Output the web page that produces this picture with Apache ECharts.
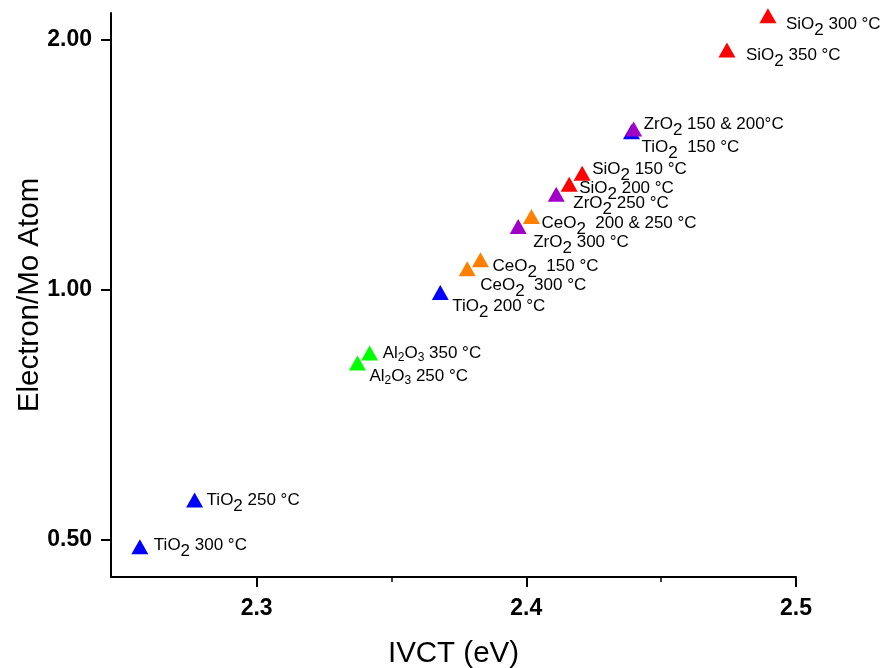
<!DOCTYPE html>
<html>
<head>
<meta charset="utf-8">
<script src="https://cdn.jsdelivr.net/npm/echarts@6/dist/echarts.min.js"></script>
<style>
  html, body { margin: 0; padding: 0; background: #fff; }
  #main { width: 882px; height: 668px; }
</style>
</head>
<body>
<div id="main"></div>
<script>
// IVCT energy (eV) vs electrons per Mo atom, one series per support
var materials = ['TiO2', 'Al2O3', 'CeO2', 'ZrO2', 'SiO2'];
var colors = ['#0000ff', '#00ff00', '#ff8000', '#a000c8', '#ff0000'];

var tio2_x = [2.2567, 2.2770, 2.3681, 2.4390];
var tio2_y = [0.490, 0.558, 0.992, 1.550];
var tio2_t = ['300 °C', '250 °C', '200 °C', ' 150 °C'];

var al2o3_x = [2.3374, 2.3419];
var al2o3_y = [0.816, 0.839];
var al2o3_t = ['250 °C', '350 °C'];

var ceo2_x = [2.3781, 2.3830, 2.4019];
var ceo2_y = [1.060, 1.087, 1.225];
var ceo2_t = [' 300 °C', ' 150 °C', ' 200 & 250 °C'];

var zro2_x = [2.3970, 2.4111, 2.4398];
var zro2_y = [1.192, 1.303, 1.562];
var zro2_t = ['300 °C', '250 °C', '150 & 200°C'];

var sio2_x = [2.4159, 2.4207, 2.4744, 2.4896];
var sio2_y = [1.340, 1.381, 1.945, 2.138];
var sio2_t = ['200 °C', '150 °C', '350 °C', '300 °C'];

var xTicks = [2.3, 2.4, 2.5];
var xMinorTicks = [2.35, 2.45];
var yTicks = [0.5, 1, 2];

// label offsets (px from marker centre), same order as the data above
var tio2_off = [[14, -1], [12, 0], [12, 14], [10, 16]];
var al2o3_off = [[12, 13], [13, 0]];
var ceo2_off = [[13, 17], [12, 7], [10, 7]];
var zro2_off = [[15, 16], [17, 9], [10, -5]];
var sio2_off = [[10, 4], [10, -4], [19, 5], [18, 8]];

var formulas = {
  'TiO2': '{n|TiO}{b|2}',
  'Al2O3': '{n|Al}{t|2}{n|O}{t|3}',
  'CeO2': '{n|CeO}{b|2}',
  'ZrO2': '{n|ZrO}{b|2}',
  'SiO2': '{n|SiO}{b|2}'
};

var FONT = '"Liberation Sans", Arial, sans-serif';

function makeSeries(name, color, xs, ys, temps, offs) {
  var data = [];
  for (var i = 0; i < xs.length; i++) {
    data.push({
      value: [xs[i], ys[i]],
      label: {
        offset: offs[i],
        formatter: formulas[name] + '{n| ' + temps[i] + '}'
      }
    });
  }
  return {
    name: name,
    type: 'scatter',
    symbol: 'triangle',
    symbolSize: [17, 15],
    itemStyle: { color: color, opacity: 1 },
    label: {
      show: true,
      position: 'inside',
      align: 'left',
      verticalAlign: 'middle',
      color: '#000',
      textBorderWidth: 0,
      rich: {
        n: { fontSize: 17, fontFamily: FONT, color: '#000' },
        b: { fontSize: 17, fontFamily: FONT, color: '#000', padding: [12, 0, 0, 0] },
        t: { fontSize: 12, fontFamily: FONT, color: '#000', padding: [10, 0, 0, 0] }
      }
    },
    emphasis: { disabled: true },
    clip: false,
    data: data
  };
}

var chart = echarts.init(document.getElementById('main'));
var option = {
  backgroundColor: '#fff',
  animation: false,
  grid: { left: 111, top: 13, right: 86, bottom: 91, containLabel: false, outerBoundsMode: 'none' },
  xAxis: [
    {
      type: 'value',
      min: 2.246,
      max: 2.5,
      name: 'IVCT (eV)',
      nameLocation: 'middle',
      nameGap: 62,
      nameMoveOverlap: false,
      nameTextStyle: { fontSize: 29.5, fontFamily: FONT, color: '#000' },
      splitLine: { show: false },
      axisLine: { show: true, onZero: false, lineStyle: { color: '#000', width: 2 } },
      axisTick: { show: true, length: 10, customValues: xTicks, lineStyle: { color: '#000', width: 2 } },
      axisLabel: {
        customValues: xTicks,
        margin: 20,
        fontSize: 23,
        fontWeight: 'bold',
        fontFamily: FONT,
        color: '#000',
        formatter: function (v) { return v.toFixed(1); }
      }
    },
    {
      type: 'value',
      min: 2.246,
      max: 2.5,
      position: 'bottom',
      splitLine: { show: false },
      axisLine: { show: false },
      axisTick: { show: true, length: 5, customValues: xMinorTicks, lineStyle: { color: '#000', width: 1.5 } },
      axisLabel: { show: false }
    }
  ],
  yAxis: {
    type: 'log',
    logBase: 2,
    min: 0.4506,
    max: 2.155,
    name: 'Electron/Mo Atom',
    nameLocation: 'middle',
    nameGap: 66,
    nameMoveOverlap: false,
    nameTextStyle: { fontSize: 29.5, fontFamily: FONT, color: '#000' },
    splitLine: { show: false },
    axisLine: { show: true, onZero: false, lineStyle: { color: '#000', width: 2 } },
    axisTick: { show: true, length: 10, customValues: yTicks, lineStyle: { color: '#000', width: 2 } },
    axisLabel: {
      customValues: yTicks,
      margin: 19,
      fontSize: 23,
      fontWeight: 'bold',
      fontFamily: FONT,
      color: '#000',
      formatter: function (v) { return Number(v).toFixed(2); }
    }
  },
  series: [
    makeSeries('TiO2', colors[0], tio2_x, tio2_y, tio2_t, tio2_off),
    makeSeries('Al2O3', colors[1], al2o3_x, al2o3_y, al2o3_t, al2o3_off),
    makeSeries('CeO2', colors[2], ceo2_x, ceo2_y, ceo2_t, ceo2_off),
    makeSeries('ZrO2', colors[3], zro2_x, zro2_y, zro2_t, zro2_off),
    makeSeries('SiO2', colors[4], sio2_x, sio2_y, sio2_t, sio2_off)
  ]
};
chart.setOption(option);
</script>
</body>
</html>
